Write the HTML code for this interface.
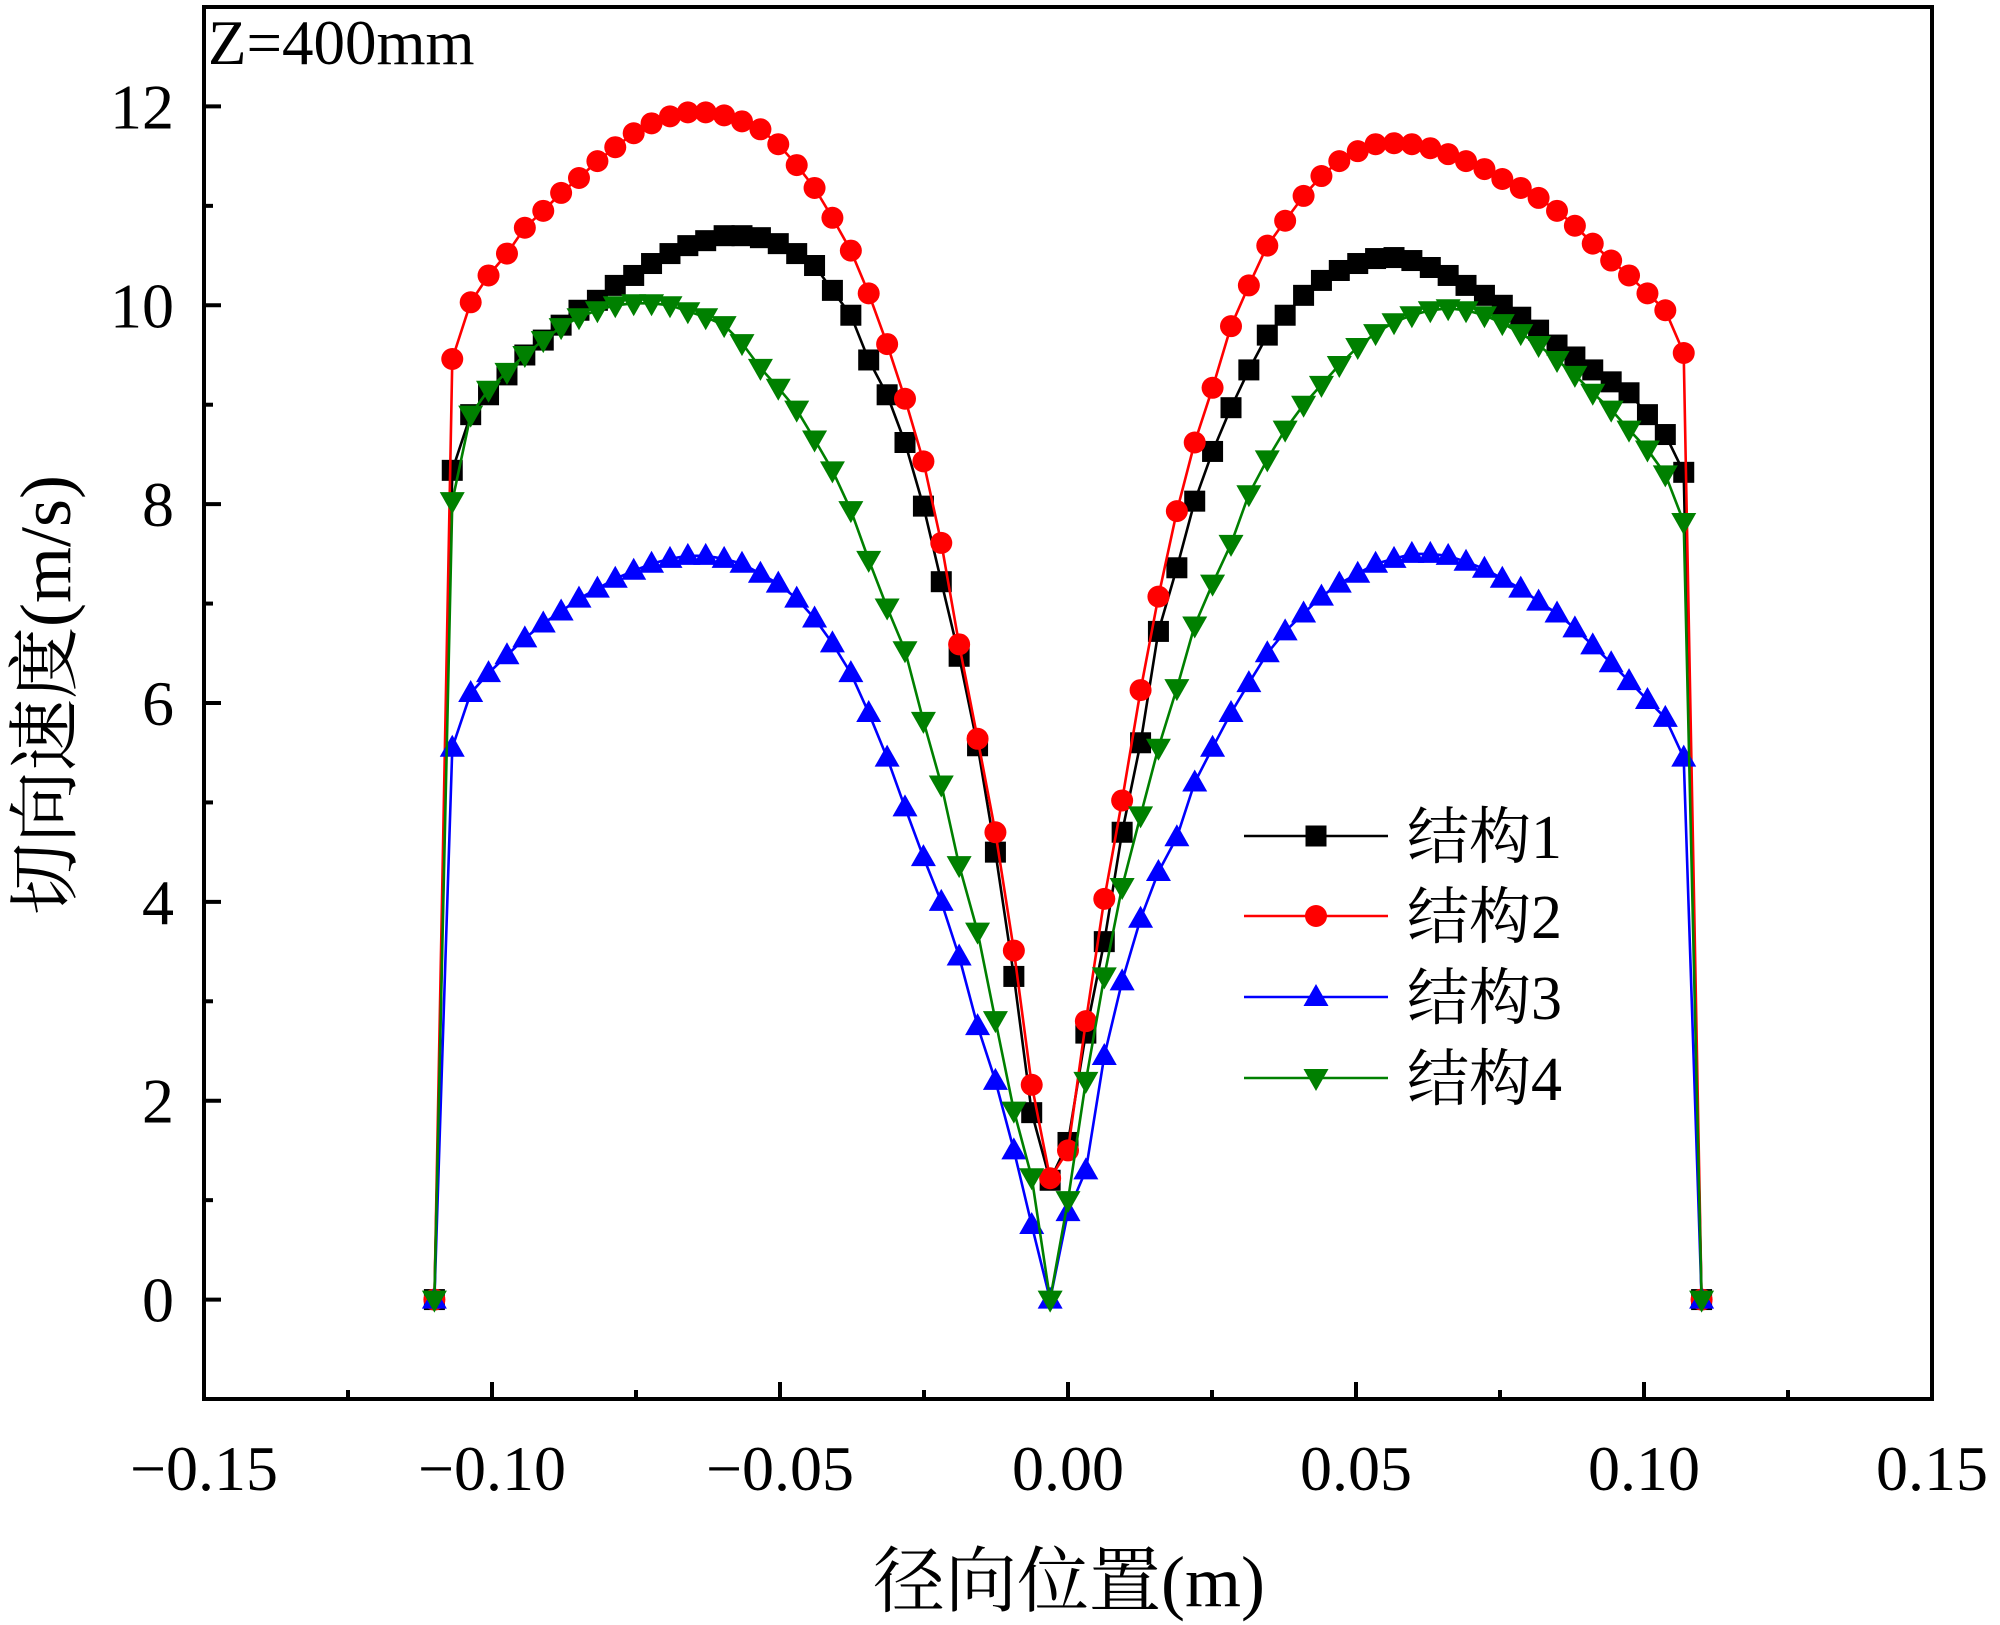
<!DOCTYPE html>
<html><head><meta charset="utf-8"><style>
html,body{margin:0;padding:0;background:#fff;}
svg{display:block;font-family:"Liberation Serif","Noto Serif CJK SC","Noto Sans CJK SC",serif;}
</style></head>
<body>
<svg id="chart" width="2000" height="1625" viewBox="0 0 2000 1625" xmlns="http://www.w3.org/2000/svg">
<rect x="0" y="0" width="2000" height="1625" fill="#fff"/>
<g id="marks"></g>
<g id="axes"></g>
<text x="208" y="64" font-size="63">Z=400mm</text>
<text x="1069" y="1606" font-size="72" text-anchor="middle">径向位置(m)</text>
<text transform="translate(70,695) rotate(-90)" font-size="72" text-anchor="middle">切向速度(m/s)</text>
<g id="legend"></g>
</svg>
<script>
const xValues = [-0.1100,-0.1069,-0.1037,-0.1006,-0.0974,-0.0943,-0.0911,-0.0880,-0.0849,-0.0817,-0.0786,-0.0754,-0.0723,-0.0691,-0.0660,-0.0629,-0.0597,-0.0566,-0.0534,-0.0503,-0.0471,-0.0440,-0.0409,-0.0377,-0.0346,-0.0314,-0.0283,-0.0251,-0.0220,-0.0189,-0.0157,-0.0126,-0.0094,-0.0063,-0.0031,0.0000,0.0031,0.0063,0.0094,0.0126,0.0157,0.0189,0.0220,0.0251,0.0283,0.0314,0.0346,0.0377,0.0409,0.0440,0.0471,0.0503,0.0534,0.0566,0.0597,0.0629,0.0660,0.0691,0.0723,0.0754,0.0786,0.0817,0.0849,0.0880,0.0911,0.0943,0.0974,0.1006,0.1037,0.1069,0.1100];
const series1 = [0,8.34,8.9,9.1,9.3,9.5,9.65,9.8,9.95,10.05,10.2,10.3,10.42,10.52,10.6,10.65,10.7,10.7,10.68,10.62,10.52,10.4,10.15,9.9,9.45,9.1,8.62,7.98,7.22,6.47,5.57,4.5,3.25,1.88,1.2,1.58,2.68,3.6,4.7,5.6,6.72,7.36,8.03,8.53,8.97,9.35,9.7,9.9,10.1,10.25,10.35,10.42,10.47,10.48,10.45,10.38,10.3,10.2,10.1,10.0,9.88,9.75,9.6,9.48,9.35,9.23,9.12,8.9,8.7,8.32,0];
const series2 = [0,9.46,10.03,10.3,10.52,10.78,10.95,11.13,11.28,11.45,11.59,11.73,11.83,11.9,11.94,11.94,11.91,11.85,11.77,11.62,11.41,11.18,10.88,10.55,10.12,9.61,9.06,8.43,7.61,6.59,5.64,4.70,3.51,2.16,1.22,1.5,2.8,4.03,5.02,6.13,7.07,7.93,8.62,9.17,9.79,10.2,10.6,10.85,11.1,11.3,11.45,11.55,11.62,11.63,11.62,11.58,11.52,11.45,11.37,11.27,11.18,11.08,10.95,10.8,10.62,10.45,10.3,10.12,9.95,9.52,0];
const series3 = [0,5.55,6.1,6.3,6.48,6.65,6.8,6.92,7.05,7.15,7.25,7.33,7.4,7.45,7.48,7.48,7.45,7.4,7.3,7.2,7.05,6.85,6.6,6.3,5.9,5.45,4.95,4.45,4.0,3.45,2.75,2.2,1.5,0.75,0,0.88,1.3,2.45,3.2,3.83,4.3,4.65,5.2,5.55,5.9,6.2,6.5,6.72,6.9,7.07,7.2,7.3,7.4,7.45,7.5,7.5,7.48,7.42,7.35,7.25,7.15,7.02,6.9,6.75,6.58,6.4,6.22,6.03,5.85,5.45,0];
const series4 = [0,8.03,8.9,9.15,9.33,9.5,9.65,9.78,9.88,9.95,10.0,10.02,10.02,10.0,9.94,9.88,9.8,9.62,9.37,9.17,8.95,8.65,8.34,7.94,7.44,6.96,6.53,5.82,5.18,4.37,3.7,2.81,1.9,1.23,0,1.0,2.2,3.25,4.15,4.87,5.55,6.15,6.78,7.2,7.6,8.1,8.45,8.75,9.0,9.2,9.4,9.58,9.72,9.83,9.9,9.95,9.97,9.95,9.9,9.82,9.72,9.6,9.45,9.3,9.12,8.95,8.75,8.55,8.3,7.82,0];
const seriesNames = ["结构1","结构2","结构3","结构4"];
const xTicks = [-0.15,-0.10,-0.05,0.00,0.05,0.10,0.15];
const xTickLabels = ["\u22120.15","\u22120.10","\u22120.05","0.00","0.05","0.10","0.15"];
const yTicks = [0,2,4,6,8,10,12];
const yTickLabels = ["0","2","4","6","8","10","12"];

const NS="http://www.w3.org/2000/svg";
const L=204,R=1932,T=7,B=1399;
const xMin=-0.15,xMax=0.15,yMin=-1,yMax=13;
function sx(v){return L+(v-xMin)/(xMax-xMin)*(R-L);}
function sy(v){return B-(v-yMin)/(yMax-yMin)*(B-T);}
function mk(tag,attrs,parent){const e=document.createElementNS(NS,tag);for(const k in attrs)e.setAttribute(k,attrs[k]);parent.appendChild(e);return e;}

const colors=["#000000","#ff0000","#0000ff","#008000"];
const shapes=["square","circle","up","down"];
const allSeries=[series1,series2,series3,series4];
const marks=document.getElementById('marks');

function marker(shape,cx,cy,color,parent){
  let e;
  if(shape==="square"){e=mk('rect',{x:cx-10.5,y:cy-10.5,width:21,height:21,fill:color},parent);}
  else if(shape==="circle"){e=mk('circle',{cx:cx,cy:cy,r:11,fill:color},parent);}
  else if(shape==="up"){e=mk('polygon',{points:`${cx},${cy-13} ${cx-12.5},${cy+9} ${cx+12.5},${cy+9}`,fill:color},parent);}
  else {e=mk('polygon',{points:`${cx},${cy+13} ${cx-12.5},${cy-9} ${cx+12.5},${cy-9}`,fill:color},parent);}
  return e;
}

allSeries.forEach((s,i)=>{
  const g=mk('g',{},marks);
  
  
  const pts=s.map((v,k)=>sx(xValues[k]).toFixed(1)+','+sy(v).toFixed(1)).join(' ');
  const line=mk('polyline',{points:pts,fill:'none',stroke:colors[i],'stroke-width':2.6,'stroke-linejoin':'round'},g);
  
  
  s.forEach((v,k)=>{
    const m=marker(shapes[i],sx(xValues[k]),sy(v),colors[i],g);
    
    
  });
});

const axes=document.getElementById('axes');
const frame=mk('rect',{x:L,y:T,width:R-L,height:B-T,fill:'none',stroke:'#000','stroke-width':4},axes);


xTicks.forEach((v,i)=>{
  const x=sx(v);
  const t=mk('line',{x1:x,y1:B,x2:x,y2:B-17,stroke:'#000','stroke-width':4},axes);
  
  
  if(i<xTicks.length-1){
    const xm=sx((v+xTicks[i+1])/2);
    const m=mk('line',{x1:xm,y1:B,x2:xm,y2:B-9,stroke:'#000','stroke-width':4},axes);
    
    
  }
  const lb=mk('text',{x:x,y:1490,'font-size':64,'text-anchor':'middle'},axes);
  lb.textContent=xTickLabels[i];
  
  
});
yTicks.forEach((v,i)=>{
  const y=sy(v);
  const t=mk('line',{x1:L,y1:y,x2:L+17,y2:y,stroke:'#000','stroke-width':4},axes);
  
  
  const ym=sy(v+1);
  const m=mk('line',{x1:L,y1:ym,x2:L+9,y2:ym,stroke:'#000','stroke-width':4},axes);
  
  
  const lb=mk('text',{x:174,y:y+22,'font-size':64,'text-anchor':'end'},axes);
  lb.textContent=yTickLabels[i];
  
  
});
const legend=document.getElementById('legend');
const rowsY=[836,916,997,1078];
seriesNames.forEach((n,i)=>{
  const g=mk('g',{},legend);
  
  
  mk('line',{x1:1244,y1:rowsY[i],x2:1388,y2:rowsY[i],stroke:colors[i],'stroke-width':2.6},g);
  marker(shapes[i],1316,rowsY[i],colors[i],g);
  const t=mk('text',{x:1407,y:rowsY[i]+22,'font-size':62},g);
  t.textContent=n;
  
  
});
</script>
</body></html>
